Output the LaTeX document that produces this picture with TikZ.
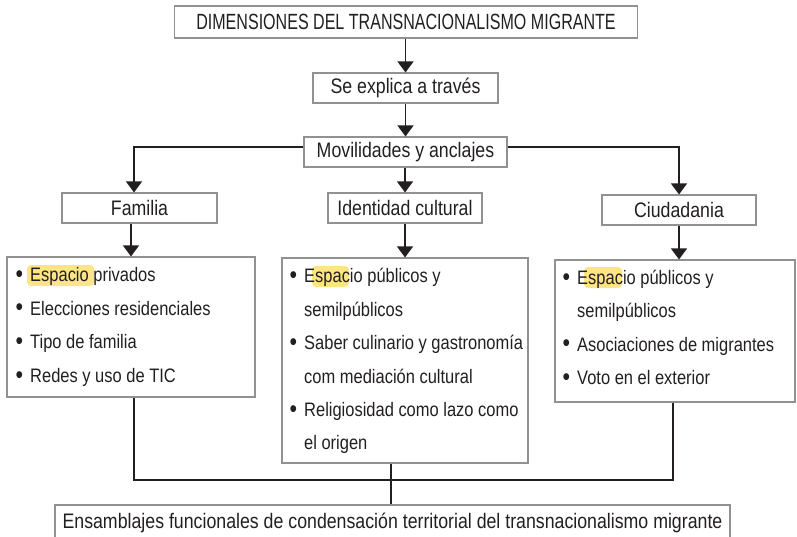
\documentclass[tikz,border=0pt]{standalone}
\usepackage{fontspec}
\setmainfont{Liberation Sans}[FakeStretch=0.845]
\newfontfamily\titlefont{Liberation Sans}[FakeStretch=0.73]
\usetikzlibrary{arrows.meta}
\definecolor{ink}{RGB}{35,31,32}
\definecolor{boxgray}{RGB}{145,145,145}
\definecolor{hly}{RGB}{253,229,133}
\newcommand\bul{\makebox[14.5pt][l]{\raisebox{-0.8pt}{\scalebox{1.3}{\textbullet}}}}
\newcommand\ind{\hspace*{14.5pt}}
\begin{document}
\begin{tikzpicture}[x=1pt,y=-1pt,
  every node/.style={font=\fontsize{21}{24}\selectfont, text=ink},
  box/.style={draw=boxgray, line width=1.1pt, inner sep=0pt},
  itm/.style={anchor=base west, inner sep=0pt, font=\fontsize{19.5}{22}\selectfont},
  conn/.style={draw=ink, line width=1.3pt},
  arr/.style={conn, -{Triangle[width=16pt,length=11pt]}}]
\useasboundingbox (0,0) rectangle (797,537);

% top chain
\node[box, minimum width=463pt, minimum height=32pt, font=\titlefont\fontsize{22}{24}\selectfont] (title) at (406,22) {DIMENSIONES DEL TRANSNACIONALISMO MIGRANTE};
\node[box, minimum width=185pt, minimum height=30pt] (se) at (405.5,88) {Se explica a través};
\node[box, minimum width=203pt, minimum height=30pt] (mov) at (405.5,152) {Movilidades y anclajes};

% second level
\node[box, minimum width=155pt, minimum height=30pt] (fam) at (139.5,208) {Familia};
\node[box, minimum width=154pt, minimum height=30pt] (iden) at (405,208) {Identidad cultural};
\node[box, minimum width=154pt, minimum height=30pt] (ciu) at (679,210) {Ciudadania};

% list boxes
\node[box, minimum width=248pt, minimum height=140pt] (lbox) at (131,327) {};
\node[box, minimum width=246pt, minimum height=205pt] (mbox) at (405,360.5) {};
\node[box, minimum width=240pt, minimum height=142pt] (rbox) at (675,331) {};

% bottom box
\node[box, minimum width=675pt, minimum height=36pt] (bot) at (392.5,523) {Ensamblajes funcionales de condensación territorial del transnacionalismo migrante};

% highlights
\fill[hly, rounded corners=4pt] (27,265) rectangle (94,286);
\fill[hly, rounded corners=4pt] (312,266) rectangle (349,287);
\fill[hly, rounded corners=4pt] (584,267) rectangle (622,288);

% left list
\node[itm] (l1) at (15.5,281.3) {\bul Espacio privados};
\node[itm] (l2) at (15.5,315) {\bul Elecciones residenciales};
\node[itm] (l3) at (15.5,348.7) {\bul Tipo de familia};
\node[itm] (l4) at (15.5,382.4) {\bul Redes y uso de TIC};

% middle list
\node[itm] (m1) at (289.5,282.8) {\bul Espacio públicos y};
\node[itm] (m2) at (289.5,316.2) {\ind semilpúblicos};
\node[itm] (m3) at (289.5,349.6) {\bul Saber culinario y gastronomía};
\node[itm] (m4) at (289.5,383) {\ind com mediación cultural};
\node[itm] (m5) at (289.5,416.4) {\bul Religiosidad como lazo como};
\node[itm] (m6) at (289.5,449.8) {\ind el origen};

% right list
\node[itm] (r1) at (562.5,284.5) {\bul Espacio públicos y};
\node[itm] (r2) at (562.5,317.8) {\ind semilpúblicos};
\node[itm] (r3) at (562.5,351) {\bul Asociaciones de migrantes};
\node[itm] (r4) at (562.5,384.3) {\bul Voto en el exterior};

% connectors
\draw[arr] (title.south -| se.north) -- (se.north);
\draw[arr] (se.south) -- (mov.north);
\draw[arr] ([yshift=5pt]mov.west) -| ([xshift=-5.5pt]fam.north);
\draw[arr] (mov.south -| iden.north) -- (iden.north);
\draw[arr] ([yshift=5pt]mov.east) -| (ciu.north);
\draw[arr] (fam.south -| lbox.north) -- (lbox.north);
\draw[arr] (iden.south) -- (iden.south |- mbox.north);
\draw[arr] (ciu.south) -- (ciu.south |- rbox.north);

\coordinate (j) at (391,480);
\draw[conn] ([xshift=3pt]lbox.south) |- (j) -| ([xshift=-2pt]rbox.south);
\draw[conn] (mbox.south -| j) -- (bot.north -| j);
\end{tikzpicture}
\end{document}
